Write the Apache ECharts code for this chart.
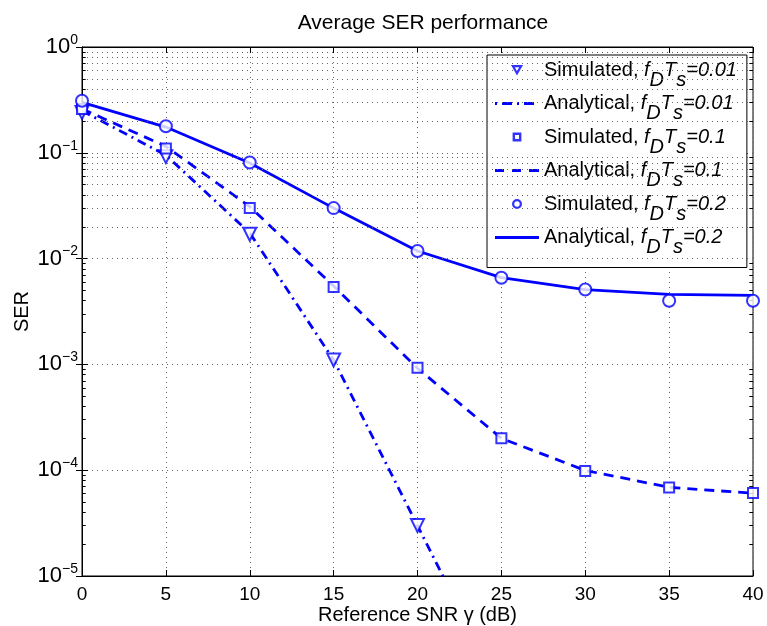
<!DOCTYPE html>
<html>
<head>
<meta charset="utf-8">
<title>Average SER performance</title>
<script src="https://cdn.jsdelivr.net/npm/echarts@6/dist/echarts.min.js"></script>
<style>
  html, body { margin: 0; padding: 0; background: #fff; }
  #chart { width: 767px; height: 626px; }
</style>
</head>
<body>
<div id="chart"></div>
<script>
// data
const snr = [0, 5, 10, 15, 20, 25, 30, 35, 40]
const snr001 = [0, 5, 10, 15, 20]
const snrAna001 = [0, 5, 10, 15, 20, 25]

const sim001 = [0.24, 0.092, 0.017, 0.0011, 3.0e-5]
const ana001 = [0.25, 0.095, 0.0175, 0.0011, 3.0e-5, 8e-7]
const sim01 = [0.26, 0.11, 0.030, 0.0054, 0.00093, 0.0002, 0.0000985, 0.0000685, 0.000061]
const ana01 = [0.26, 0.115, 0.031, 0.0055, 0.00092, 0.0002, 0.0000995, 0.000069, 0.0000605]
const sim02 = [0.31, 0.178, 0.081, 0.030, 0.0118, 0.0066, 0.0051, 0.0040, 0.0040]
const ana02 = [0.30, 0.175, 0.080, 0.030, 0.0118, 0.0066, 0.0051, 0.0046, 0.0045]

const names = [
  'Simulated, 0.01', 'Analytical, 0.01',
  'Simulated, 0.1', 'Analytical, 0.1',
  'Simulated, 0.2', 'Analytical, 0.2'
]

const BLUE = '#0000ff'
const FONT = 'Liberation Sans'

function pairs(xs, ys) {
  return ys.map((y, i) => [xs[i], y])
}

// legend icons (built-in symbols get stretched to itemWidth, so use paths)
// first two moveTo's only fix the bounding box
const ICON_TRI = 'path://M0,0M14,14M1,2L13,2L7,12.4ZM4.8,4.3L7,8.2L9.2,4.3Z'
const ICON_SQR = 'path://M0,0M14,14M2.6,2.6L11.4,2.6L11.4,11.4L2.6,11.4ZM5,5L5,9L9,9L9,5Z'
const ICON_CIR = 'path://M0,0M14,14M2,7A5,5 0 1,0 12,7A5,5 0 1,0 2,7ZM4.3,7A2.7,2.7 0 1,1 9.7,7A2.7,2.7 0 1,1 4.3,7Z'
const ICON_DASHDOT = 'path://M0,0M44,14M0,5.6L2,5.6L2,8.4L0,8.4ZM7,5.6L17,5.6L17,8.4L7,8.4ZM22,5.6L24,5.6L24,8.4L22,8.4ZM29,5.6L39,5.6L39,8.4L29,8.4Z'
const ICON_DASH = 'path://M0,0M44,14M0,5.6L9,5.6L9,8.4L0,8.4ZM17,5.6L26,5.6L26,8.4L17,8.4ZM34,5.6L44,5.6L44,8.4L34,8.4Z'
const ICON_SOLID = 'path://M0,0M44,14M0,5.6L44,5.6L44,8.4L0,8.4Z'
const icons = [ICON_TRI, ICON_DASHDOT, ICON_SQR, ICON_DASH, ICON_CIR, ICON_SOLID]

// minor grid (2..9 inside each decade) and the short minor ticks on both sides
const minorVals = []
for (let d = -5; d < 0; d++) {
  for (let k = 2; k <= 9; k++) minorVals.push(k * Math.pow(10, d))
}
const minorLines = minorVals.map(v => ({ yAxis: v }))
const tickStyle = { color: '#000', type: 'solid', width: 1 }
const minorTicks = []
minorVals.forEach(v => {
  minorTicks.push([{ coord: [0, v], lineStyle: tickStyle }, { coord: [0.22, v] }])
  minorTicks.push([{ coord: [39.78, v], lineStyle: tickStyle }, { coord: [40, v] }])
})

let chart = echarts.init(document.getElementById('chart'))

const dotted = { color: '#666', width: 1, type: [1, 4] }

chart.setOption({
  animation: false,
  textStyle: { fontFamily: FONT },
  title: {
    text: 'Average SER performance',
    left: 418, top: 8, textAlign: 'center',
    textStyle: { fontSize: 21, fontWeight: 'normal', color: '#000', fontFamily: FONT }
  },
  grid: {
    left: 82, right: 14, top: 47, bottom: 50,
    outerBoundsMode: 'none',
    show: true, borderColor: '#000', borderWidth: 1, backgroundColor: '#fff'
  },
  legend: {
    orient: 'vertical',
    left: 487, top: 55,
    width: 259,
    padding: [5, 10, 10, 8],
    itemGap: 3.5,
    itemWidth: 44, itemHeight: 14,
    backgroundColor: '#fff',
    borderColor: '#000', borderWidth: 1,
    data: names.map((n, i) => ({
      name: n,
      icon: icons[i],
      itemStyle: { color: BLUE, borderWidth: 0 }
    })),
    formatter: name => {
      const p = name.split(', ')
      return p[0] + ', {i|f}{sub|D}{i|T}{sub|s}{i|=' + p[1] + '}'
    },
    textStyle: {
      fontSize: 20, color: '#000', fontFamily: FONT,
      rich: {
        i: { fontSize: 20, fontStyle: 'italic', color: '#000', fontFamily: FONT },
        sub: { fontSize: 20, fontStyle: 'italic', color: '#000', fontFamily: FONT, padding: [20, 0, 0, 0] }
      }
    }
  },
  xAxis: [{
    type: 'value', min: 0, max: 40, interval: 5,
    name: 'Reference SNR \u03b3 (dB)', nameLocation: 'middle', nameGap: 29,
    nameMoveOverlap: false,
    nameTextStyle: { fontSize: 20, color: '#000', fontFamily: FONT },
    axisLine: { show: true, lineStyle: { color: '#000' } },
    axisTick: { show: true, inside: true, length: 6, lineStyle: { color: '#000' } },
    axisLabel: { fontSize: 19, color: '#000', margin: 9, fontFamily: FONT },
    splitLine: { show: true, lineStyle: dotted }
  }, {
    type: 'value', min: 0, max: 40, interval: 5, position: 'top',
    axisLine: { show: true, lineStyle: { color: '#000' } },
    axisTick: { show: true, inside: true, length: 6, lineStyle: { color: '#000' } },
    axisLabel: { show: false },
    splitLine: { show: false }
  }],
  yAxis: [{
    type: 'log', logBase: 10, min: 1e-5, max: 1,
    name: 'SER', nameLocation: 'middle', nameGap: 50,
    nameMoveOverlap: false,
    nameTextStyle: { fontSize: 20, color: '#000', fontFamily: FONT },
    axisLine: { show: true, lineStyle: { color: '#000' } },
    axisTick: { show: true, inside: true, length: 6, lineStyle: { color: '#000' } },
    axisLabel: {
      margin: 4, color: '#000',
      formatter: v => {
        const e = Math.round(Math.log10(v))
        return '{b|10}{s|' + (e < 0 ? '\u2212' + (-e) : e) + '}'
      },
      rich: {
        b: { fontSize: 22, color: '#000', fontFamily: FONT },
        s: { fontSize: 14, color: '#000', fontFamily: FONT, padding: [0, 0, 14, 0] }
      }
    },
    splitLine: { show: true, lineStyle: dotted }
  }, {
    type: 'log', logBase: 10, min: 1e-5, max: 1, position: 'right',
    axisLine: { show: true, lineStyle: { color: '#000' } },
    axisTick: { show: true, inside: true, length: 6, lineStyle: { color: '#000' } },
    axisLabel: { show: false },
    splitLine: { show: false }
  }],
  series: [
    {
      // minor log grid
      name: 'grid', type: 'line', data: [], silent: true,
      markLine: {
        silent: true, symbol: 'none', animation: false,
        label: { show: false },
        lineStyle: dotted,
        data: minorLines.concat(minorTicks)
      }
    },
    {
      name: names[0], type: 'scatter', data: pairs(snr001, sim001),
      symbol: 'emptyTriangle', symbolRotate: 180, symbolSize: 13,
      itemStyle: { color: BLUE, borderWidth: 2.2 }, z: 5
    },
    {
      name: names[1], type: 'line', data: pairs(snrAna001, ana001),
      symbol: 'none', clip: true,
      lineStyle: { color: BLUE, width: 2.8, type: [9, 5, 2, 5] },
      itemStyle: { color: BLUE }
    },
    {
      name: names[2], type: 'scatter', data: pairs(snr, sim01),
      symbol: 'emptyRect', symbolSize: 10,
      itemStyle: { color: BLUE, borderWidth: 2.2 }, z: 5
    },
    {
      name: names[3], type: 'line', data: pairs(snr, ana01),
      symbol: 'none',
      lineStyle: { color: BLUE, width: 2.8, type: [10, 7] },
      itemStyle: { color: BLUE }
    },
    {
      name: names[4], type: 'scatter', data: pairs(snr, sim02),
      symbol: 'emptyCircle', symbolSize: 12,
      itemStyle: { color: BLUE, borderWidth: 2.2 }, z: 5
    },
    {
      name: names[5], type: 'line', data: pairs(snr, ana02),
      symbol: 'none',
      lineStyle: { color: BLUE, width: 2.8 },
      itemStyle: { color: BLUE }
    }
  ]
})
</script>
</body>
</html>
